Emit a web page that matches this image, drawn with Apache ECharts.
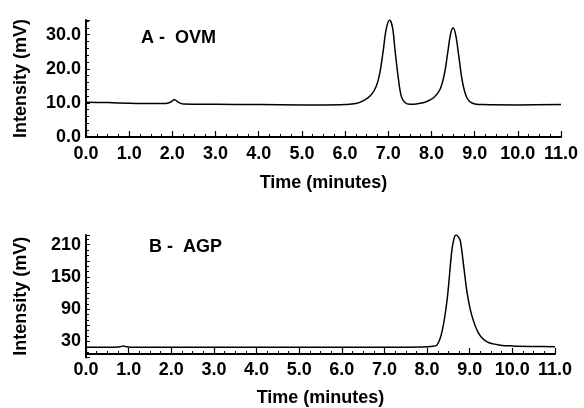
<!DOCTYPE html>
<html><head><meta charset="utf-8">
<script src="https://cdn.jsdelivr.net/npm/echarts@6/dist/echarts.min.js"></script>
<style>html,body{margin:0;padding:0;background:#fff}#c{width:584px;height:408px}</style>
</head><body><div id="c"></div>
<script>
// Panel A - OVM
var timeA = [0, 0.5, 1.0, 1.5, 1.85, 1.95, 2.05, 2.15, 2.25, 3.0, 4.0, 5.0, 5.5, 6.0, 6.25, 6.45, 6.6, 6.72, 6.8, 6.88, 6.95, 7.03, 7.1, 7.16, 7.23, 7.3, 7.38, 7.5, 7.65, 7.85, 8.05, 8.2, 8.3, 8.38, 8.44, 8.5, 8.56, 8.63, 8.72, 8.82, 8.95, 9.2, 10.0, 11.0];
var intensityA = [10.2, 10.1, 9.9, 9.8, 9.8, 10.2, 10.9, 10.1, 9.7, 9.6, 9.5, 9.4, 9.4, 9.5, 9.8, 10.8, 12.3, 14.8, 18.5, 25, 31.5, 34.3, 32, 25, 17.5, 12, 10.2, 9.6, 9.7, 10.2, 11.5, 14, 18.5, 25, 30, 32.0, 30, 24, 16, 11.5, 9.9, 9.5, 9.4, 9.5];
// Panel B - AGP
var timeB = [0, 0.7, 0.8, 0.87, 0.95, 1.05, 2, 4, 6, 7, 7.9, 8.1, 8.23, 8.35, 8.47, 8.58, 8.64, 8.68, 8.73, 8.78, 8.86, 8.94, 9.05, 9.21, 9.41, 9.72, 10.0, 10.5, 11.0];
var intensityB = [19, 19, 19.8, 21.5, 19.8, 19, 19, 19, 19, 19, 19.5, 20.5, 23, 48, 108, 199, 224, 228, 225, 217, 169, 120, 78, 45, 29, 23, 21.5, 20.5, 20];
var xTicks = [0, 1, 2, 3, 4, 5, 6, 7, 8, 9, 10, 11];
var yTicksA = [0, 10, 20, 30];
var yTicksB = [30, 90, 150, 210];

function pairs(xs, ys){ return xs.map(function(x,i){return [x, ys[i]];}); }
var FONT = 'Liberation Sans';
var lab = {color:'#000', fontFamily:FONT, fontWeight:'bold', fontSize:18};
var nameStyle = {color:'#000', fontFamily:FONT, fontWeight:'bold', fontSize:18};
function xAxis(idx, margin, gap, offset){
  return {type:'value', gridIndex:idx, min:0, max:11, interval:1, offset:offset,
    name:'Time (minutes)', nameLocation:'middle', nameGap:gap,
    nameTextStyle:nameStyle,
    axisLine:{lineStyle:{color:'#000', width:2}},
    axisTick:{inside:true, length:6, lineStyle:{color:'#000', width:1.2}},
    minorTick:{show:true, splitNumber:4, length:3, lineStyle:{color:'#000', width:1}},
    splitLine:{show:false},
    axisLabel:Object.assign({margin:margin, formatter:function(v){return xTicks.indexOf(v)>=0 ? v.toFixed(1) : '';}}, lab)};
}
var option = {
  animation:false,
  backgroundColor:'#fff',
  title:[
    {text:'A -  OVM', left:136, top:24, textStyle:{color:'#000', fontFamily:FONT, fontWeight:'bold', fontSize:18}},
    {text:'B -  AGP', left:144, top:233, textStyle:{color:'#000', fontFamily:FONT, fontWeight:'bold', fontSize:18}}
  ],
  grid:[
    {left:86, right:23, top:20, bottom:271},
    {left:86, right:29, top:235, bottom:48.5}
  ],
  xAxis:[xAxis(0, 8, 37, 0), xAxis(1, 7, 35, -3.5)],
  yAxis:[
    {type:'value', gridIndex:0, min:0, max:34.3, interval:10,
     name:'Intensity (mV)', nameLocation:'middle', nameGap:56,
     nameTextStyle:nameStyle,
     axisLine:{show:true, lineStyle:{color:'#000', width:2}},
     axisTick:{show:true, inside:true, length:4, lineStyle:{color:'#000', width:1}},
     minorTick:{show:true, splitNumber:5, length:3, lineStyle:{color:'#000', width:1}},
     splitLine:{show:false},
     axisLabel:Object.assign({margin:5, formatter:function(v){return yTicksA.indexOf(v)>=0 ? v.toFixed(1) : '';}}, lab)},
    {type:'value', gridIndex:1, min:0, max:228, interval:30,
     name:'Intensity (mV)', nameLocation:'middle', nameGap:56,
     nameTextStyle:nameStyle,
     axisLine:{show:true, lineStyle:{color:'#000', width:2}},
     axisTick:{show:true, inside:true, length:4, lineStyle:{color:'#000', width:1}},
     minorTick:{show:true, splitNumber:3, length:3, lineStyle:{color:'#000', width:1}},
     splitLine:{show:false},
     axisLabel:Object.assign({margin:5, formatter:function(v){return yTicksB.indexOf(v)>=0 ? String(v) : '';}}, lab)}
  ],
  series:[
    {type:'line', xAxisIndex:0, yAxisIndex:0, data:pairs(timeA, intensityA), smooth:0.35, showSymbol:false,
     lineStyle:{color:'#000', width:1.5}},
    {type:'line', xAxisIndex:1, yAxisIndex:1, data:pairs(timeB, intensityB), smooth:0.35, showSymbol:false,
     lineStyle:{color:'#000', width:1.5}}
  ]
};
echarts.init(document.getElementById('c'), null, {renderer:'canvas'}).setOption(option);
</script></body></html>
